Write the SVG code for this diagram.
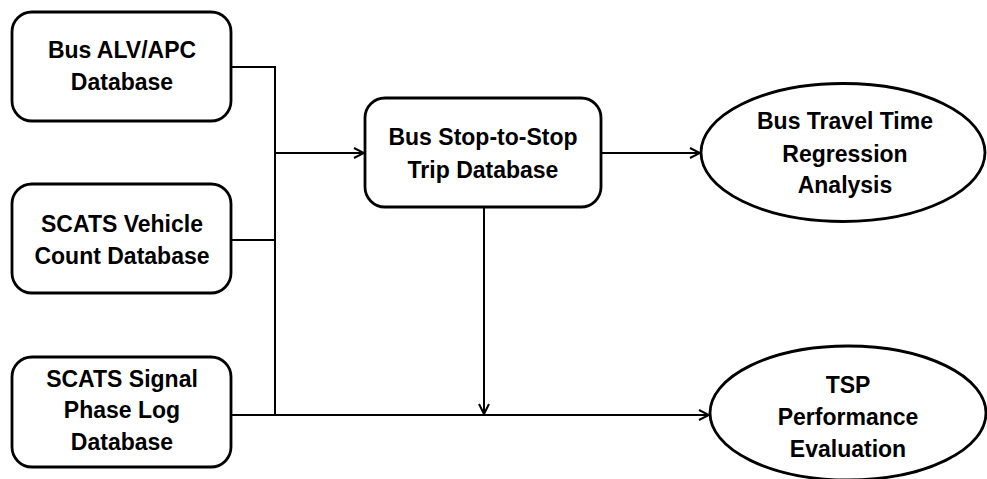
<svg xmlns="http://www.w3.org/2000/svg" width="987" height="479" viewBox="0 0 987 479">
<style>
.box{fill:#fff;stroke:#000;stroke-width:2.8}
.ell{fill:#fff;stroke:#000;stroke-width:2.8}
.lbl{font-family:"Liberation Sans",Arial,sans-serif;font-weight:bold;font-size:23px;fill:#000;text-anchor:middle}
.ln{fill:none;stroke:#000;stroke-width:2}
</style>
<defs>
<marker id="ah" viewBox="0 0 12 12" refX="11" refY="6" markerWidth="12" markerHeight="12" markerUnits="userSpaceOnUse" orient="auto">
<path d="M1,1 L11,6 L1,11" fill="none" stroke="#000" stroke-width="2"/>
</marker>
</defs>
<rect width="987" height="479" fill="#fff"/>
<g id="connectors">
<polyline class="ln" points="231,67 275,67 275,415"/>
<line class="ln" x1="231" y1="240" x2="275" y2="240"/>
<line class="ln" x1="275" y1="153" x2="364" y2="153" marker-end="url(#ah)"/>
<line class="ln" x1="601" y1="153" x2="700" y2="153" marker-end="url(#ah)"/>
<line class="ln" x1="484" y1="207" x2="484" y2="414" marker-end="url(#ah)"/>
<line class="ln" x1="231" y1="415" x2="709" y2="415" marker-end="url(#ah)"/>
</g>
<g id="bus-alv">
<rect class="box" x="12" y="12" width="219" height="109" rx="20"/>
<text class="lbl" x="122" y="58">Bus ALV/APC</text>
<text class="lbl" x="122" y="90">Database</text>
</g>
<g id="scats-vehicle">
<rect class="box" x="12" y="184" width="219" height="109" rx="20"/>
<text class="lbl" x="122" y="232">SCATS Vehicle</text>
<text class="lbl" x="122" y="264">Count Database</text>
</g>
<g id="scats-signal">
<rect class="box" x="12" y="357" width="219" height="110" rx="20"/>
<text class="lbl" x="122" y="387">SCATS Signal</text>
<text class="lbl" x="122" y="418">Phase Log</text>
<text class="lbl" x="122" y="450">Database</text>
</g>
<g id="trip-db">
<rect class="box" x="365" y="98" width="236" height="109" rx="20"/>
<text class="lbl" x="483" y="145">Bus Stop-to-Stop</text>
<text class="lbl" x="483" y="178">Trip Database</text>
</g>
<g id="regression">
<ellipse class="ell" cx="843" cy="152.5" rx="142" ry="69"/>
<text class="lbl" x="845" y="129">Bus Travel Time</text>
<text class="lbl" x="845" y="162">Regression</text>
<text class="lbl" x="845" y="193">Analysis</text>
</g>
<g id="tsp">
<ellipse class="ell" cx="848" cy="413" rx="138" ry="67"/>
<text class="lbl" x="848" y="393">TSP</text>
<text class="lbl" x="848" y="425">Performance</text>
<text class="lbl" x="848" y="457">Evaluation</text>
</g>
</svg>
